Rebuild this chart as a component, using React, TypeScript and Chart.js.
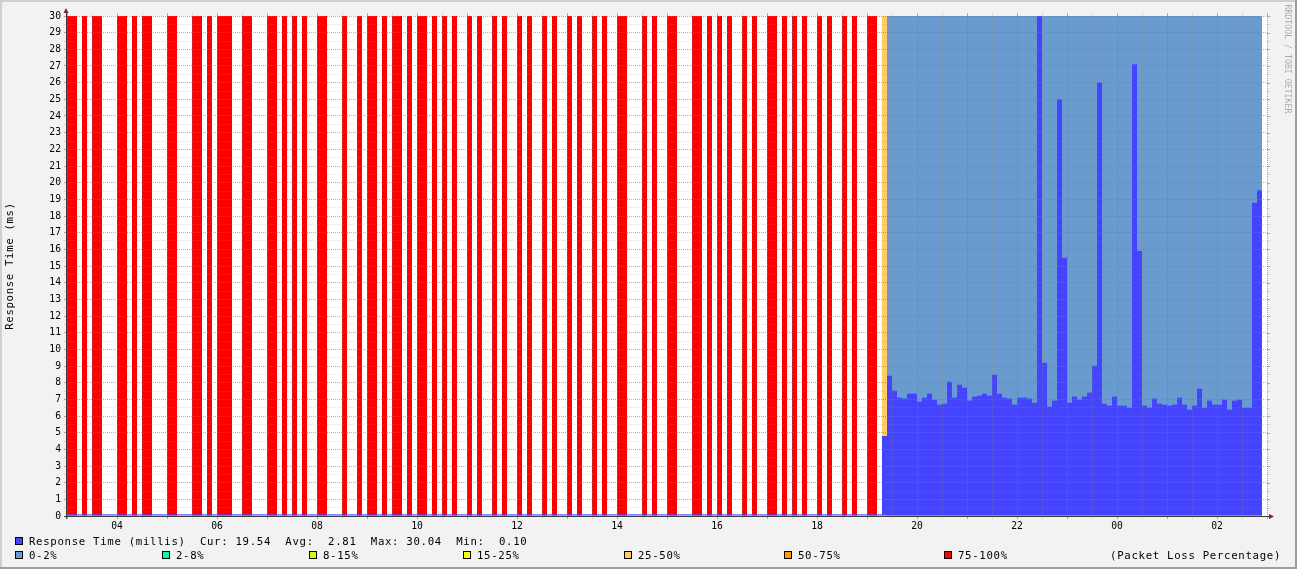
import React, { useEffect, useRef } from "react";
import { Chart, registerables } from "chart.js";

Chart.register(...registerables);

const _ = null;
const R = 100;

// time axis: one bin = 6 minutes, first bin starts at 03:00
const firstHour = 3;
const binsPerHour = 10;
const binTotal = 240;

// packet loss per bin (%), null = no data
const lossPct: (number | null)[] = [
  R, R, _, R, _, R, R, _, _, _,
  R, R, _, R, _, R, R, _, _, _,
  R, R, _, _, _, R, R, _, R, _,
  R, R, R, _, _, R, R, _, _, _,
  R, R, _, R, _, R, _, R, _, _,
  R, R, _, _, _, R, _, _, R, _,
  R, R, _, R, _, R, R, _, R, _,
  R, R, _, R, _, R, _, R, _, _,
  R, _, R, _, _, R, _, R, _, _,
  R, _, R, _, _, R, _, R, _, _,
  R, _, R, _, _, R, _, R, _, _,
  R, R, _, _, _, R, _, R, _, _,
  R, R, _, _, _, R, R, _, R, _,
  R, _, R, _, _, R, _, R, _, _,
  R, R, _, R, _, R, _, R, _, _,
  R, _, R, _, _, R, _, R, _, _,
  R, R, _, 30, 0, 0, 0, 0, 0, 0,
  0, 0, 0, 0, 0, 0, 0, 0, 0, 0,
  0, 0, 0, 0, 0, 0, 0, 0, 0, 0,
  0, 0, 0, 0, 0, 0, 0, 0, 0, 0,
  0, 0, 0, 0, 0, 0, 0, 0, 0, 0,
  0, 0, 0, 0, 0, 0, 0, 0, 0, 0,
  0, 0, 0, 0, 0, 0, 0, 0, 0, 0,
  0, 0, 0, 0, 0, 0, 0, 0, 0,
];

// median response time per bin (ms)
const rtMillis: number[] = [
  0.1, 0.1, 0.1, 0.1, 0.1, 0.1, 0.1, 0.1, 0.1, 0.1,
  0.1, 0.1, 0.1, 0.1, 0.1, 0.1, 0.1, 0.1, 0.1, 0.1,
  0.1, 0.1, 0.1, 0.1, 0.1, 0.1, 0.1, 0.1, 0.1, 0.1,
  0.1, 0.1, 0.1, 0.1, 0.1, 0.1, 0.1, 0.1, 0.1, 0.1,
  0.1, 0.1, 0.1, 0.1, 0.1, 0.1, 0.1, 0.1, 0.1, 0.1,
  0.1, 0.1, 0.1, 0.1, 0.1, 0.1, 0.1, 0.1, 0.1, 0.1,
  0.1, 0.1, 0.1, 0.1, 0.1, 0.1, 0.1, 0.1, 0.1, 0.1,
  0.1, 0.1, 0.1, 0.1, 0.1, 0.1, 0.1, 0.1, 0.1, 0.1,
  0.1, 0.1, 0.1, 0.1, 0.1, 0.1, 0.1, 0.1, 0.1, 0.1,
  0.1, 0.1, 0.1, 0.1, 0.1, 0.1, 0.1, 0.1, 0.1, 0.1,
  0.1, 0.1, 0.1, 0.1, 0.1, 0.1, 0.1, 0.1, 0.1, 0.1,
  0.1, 0.1, 0.1, 0.1, 0.1, 0.1, 0.1, 0.1, 0.1, 0.1,
  0.1, 0.1, 0.1, 0.1, 0.1, 0.1, 0.1, 0.1, 0.1, 0.1,
  0.1, 0.1, 0.1, 0.1, 0.1, 0.1, 0.1, 0.1, 0.1, 0.1,
  0.1, 0.1, 0.1, 0.1, 0.1, 0.1, 0.1, 0.1, 0.1, 0.1,
  0.1, 0.1, 0.1, 0.1, 0.1, 0.1, 0.1, 0.1, 0.1, 0.1,
  0.1, 0.1, 0.1, 4.8, 8.42, 7.52, 7.1, 7.04, 7.34, 7.34,
  6.86, 7.1, 7.34, 6.98, 6.68, 6.74, 8.06, 7.1, 7.88, 7.7,
  6.92, 7.16, 7.22, 7.34, 7.22, 8.48, 7.34, 7.1, 7.04, 6.68,
  7.1, 7.1, 7.04, 6.8, 30.04, 9.2, 6.56, 6.92, 25.0, 15.5,
  6.8, 7.16, 6.98, 7.16, 7.4, 9.02, 26.0, 6.74, 6.62, 7.16,
  6.62, 6.62, 6.5, 27.1, 15.9, 6.62, 6.5, 7.04, 6.74, 6.68,
  6.62, 6.68, 7.1, 6.68, 6.38, 6.62, 7.64, 6.5, 6.92, 6.68,
  6.68, 6.98, 6.38, 6.92, 6.98, 6.5, 6.5, 18.8, 19.54,
];

const lossLabels = ["0-2%", "2-8%", "8-15%", "15-25%", "25-50%", "50-75%", "75-100%"];
const lossUpper = [2, 8, 15, 25, 50, 75, 100];
const lossColors = ["#6A9BCE", "#00FFAA", "#CCFF00", "#FFFF00", "#FFCC66", "#FF9900", "#FF0000"];

const rtLabel = "Response Time (millis)";
const rtColor = "#4444FF";
const statNames = ["Cur", "Avg", "Max", "Min"];
const statValues = [19.54, 2.81, 30.04, 0.1];
const yTitle = "Response Time (ms)";
const lossTitle = "(Packet Loss Percentage)";
const watermark = "RRDTOOL / TOBI OETIKER";
const yMin = 0;
const yMax = 30;

// ---- styling / layout ----
const MONO = '"DejaVu Sans Mono", monospace';
const MAJOR = "rgba(222,79,79,0.6)";
const MINOR = "rgba(143,143,143,0.28)";
const legendBoxX = [15, 162, 309, 463, 624, 784, 944];
const ADV = 7.12;

const lossClass = (p: number) => {
  const i = lossUpper.findIndex((u) => p <= u);
  return i < 0 ? lossUpper.length - 1 : i;
};

function monoText(ctx: CanvasRenderingContext2D, text: string, x: number, y: number, adv: number) {
  for (let i = 0; i < text.length; i++) ctx.fillText(text[i], x + i * adv, y);
}

function legendBox(ctx: CanvasRenderingContext2D, x: number, y: number, color: string) {
  ctx.fillStyle = "#000";
  ctx.fillRect(x, y, 8, 8);
  ctx.fillStyle = color;
  ctx.fillRect(x + 1, y + 1, 6, 6);
}

const decor = {
  id: "rrdDecor",
  beforeDraw(chart: any) {
    const { ctx, width, height, chartArea: a } = chart;
    ctx.save();
    ctx.fillStyle = "#F2F2F2";
    ctx.fillRect(0, 0, width, height);
    ctx.fillStyle = "#CFCFCF";
    ctx.fillRect(0, 0, width, 2);
    ctx.fillRect(0, 0, 2, height);
    ctx.fillStyle = "#9E9E9E";
    ctx.fillRect(0, height - 2, width, 2);
    ctx.fillRect(width - 2, 0, 2, height);
    ctx.fillStyle = "#FFFFFF";
    ctx.fillRect(a.left, a.top, a.right - a.left, a.bottom - a.top);
    ctx.restore();
  },
  afterDraw(chart: any) {
    const { ctx, chartArea: a, scales } = chart;
    const xs = scales.x;
    const ys = scales.y;
    ctx.save();
    // outer tick marks on top and right
    xs.ticks.forEach((t: any, i: number) => {
      const px = Math.round(xs.getPixelForValue(t.value));
      ctx.fillStyle = i % 2 === 0 ? MAJOR : MINOR;
      ctx.fillRect(px, a.top - 3, 1, 3);
    });
    ys.ticks.forEach((t: any, i: number) => {
      const py = Math.round(ys.getPixelForValue(t.value));
      ctx.fillStyle = i % 2 === 0 ? MAJOR : MINOR;
      ctx.fillRect(a.right, py, 3, 1);
    });
    // axes
    ctx.fillStyle = "#3A3A3A";
    ctx.fillRect(a.left - 1, a.top - 6, 1, a.bottom - a.top + 9);
    ctx.fillRect(a.left - 3, a.bottom, a.right - a.left + 6, 1);
    // arrows
    ctx.fillStyle = "rgb(128,31,31)";
    ctx.beginPath();
    ctx.moveTo(a.left - 3.5, a.top - 3);
    ctx.lineTo(a.left + 1.5, a.top - 3);
    ctx.lineTo(a.left - 1, a.top - 8);
    ctx.closePath();
    ctx.fill();
    ctx.beginPath();
    ctx.moveTo(a.right + 2, a.bottom - 2);
    ctx.lineTo(a.right + 2, a.bottom + 3);
    ctx.lineTo(a.right + 7, a.bottom + 0.5);
    ctx.closePath();
    ctx.fill();

    // legend
    ctx.font = `10.7px ${MONO}`;
    ctx.textBaseline = "alphabetic";
    ctx.textAlign = "left";
    legendBox(ctx, 15, 537, rtColor);
    ctx.fillStyle = "#000";
    const stats = statNames
      .map((n, i) => `${n}: ${statValues[i].toFixed(2).padStart(5)}`)
      .join("  ");
    monoText(ctx, `${rtLabel}  ${stats}`, 29, 545, ADV);
    lossLabels.forEach((lab, i) => {
      legendBox(ctx, legendBoxX[i], 551, lossColors[i]);
      ctx.fillStyle = "#000";
      monoText(ctx, lab, legendBoxX[i] + 14, 559, ADV);
    });
    monoText(ctx, lossTitle, 1281 - lossTitle.length * ADV, 559, ADV);

    // y axis title
    ctx.save();
    ctx.translate(10, (a.top + a.bottom) / 2);
    ctx.rotate(-Math.PI / 2);
    ctx.textBaseline = "middle";
    ctx.fillStyle = "#000";
    monoText(ctx, yTitle, -(yTitle.length * 7.08) / 2, 0, 7.08);
    ctx.restore();

    // watermark
    ctx.save();
    ctx.translate(1285, 4.5);
    ctx.rotate(Math.PI / 2);
    ctx.font = `8.2px ${MONO}`;
    ctx.textBaseline = "alphabetic";
    ctx.fillStyle = "rgba(0,0,0,0.3)";
    monoText(ctx, watermark, 0, 0, 4.95);
    ctx.restore();

    ctx.restore();
  },
};

export default function App() {
  const ref = useRef<HTMLCanvasElement | null>(null);
  useEffect(() => {
    document.body.style.margin = "0";
    const canvas = ref.current;
    if (!canvas) return;
    const rtData = rtMillis.map((v, i) => ({ x: i + 0.5, y: v }));
    const lossData = lossPct.map((p, i) => ({ x: i + 0.5, y: p == null ? null : yMax }));
    const lossBg = lossPct.map((p) => (p == null ? "rgba(0,0,0,0)" : lossColors[lossClass(p)]));
    const gridColor = (c: any) => (c.index % 2 === 0 ? MAJOR : MINOR);
    const chart = new Chart(canvas, {
      type: "bar",
      data: {
        datasets: [
          {
            label: rtLabel,
            data: rtData as any,
            backgroundColor: rtColor,
            borderWidth: 0,
            grouped: false,
            barPercentage: 1,
            categoryPercentage: 1,
            inflateAmount: 0,
            order: 0,
          } as any,
          {
            label: "loss",
            data: lossData as any,
            backgroundColor: lossBg,
            borderWidth: 0,
            grouped: false,
            barPercentage: 1,
            categoryPercentage: 1,
            inflateAmount: 0,
            order: 1,
          } as any,
        ],
      },
      options: {
        responsive: false,
        devicePixelRatio: 1,
        animation: false,
        events: [],
        layout: { padding: { left: 0, top: 16, right: 30, bottom: 34 } },
        plugins: { legend: { display: false }, tooltip: { enabled: false }, title: { display: false } },
        scales: {
          x: {
            type: "linear",
            offset: false,
            min: 0,
            max: binTotal,
            grid: { z: 1, offset: false, color: gridColor, tickColor: gridColor, tickLength: 3, lineWidth: 1, drawTicks: true },
            border: { display: false, dash: [1, 1] },
            ticks: {
              stepSize: 5,
              autoSkip: false,
              maxRotation: 0,
              minRotation: 0,
              padding: 2,
              color: "#000",
              font: { family: MONO, size: 9.7 },
              callback: (value: any) => {
                const v = Number(value);
                if (v % 20 === 10) {
                  const h = (firstHour + v / binsPerHour) % 24;
                  return String(h).padStart(2, "0");
                }
                return "";
              },
            },
            afterFit: (s: any) => {
              s.height = 19;
            },
          },
          y: {
            type: "linear",
            min: yMin,
            max: yMax,
            grid: { z: 1, color: gridColor, tickColor: gridColor, tickLength: 3, lineWidth: 1, drawTicks: true },
            border: { display: false, dash: [1, 1] },
            ticks: {
              stepSize: 0.5,
              autoSkip: false,
              padding: 3,
              color: "#000",
              font: { family: MONO, size: 9.7 },
              callback: (value: any) => (Number.isInteger(Number(value)) ? String(value) : ""),
            },
            afterFit: (s: any) => {
              s.width = 67;
            },
          },
        },
      } as any,
      plugins: [decor as any],
    });
    return () => chart.destroy();
  }, []);
  return <canvas ref={ref} width={1297} height={569} style={{ display: "block" }} />;
}
